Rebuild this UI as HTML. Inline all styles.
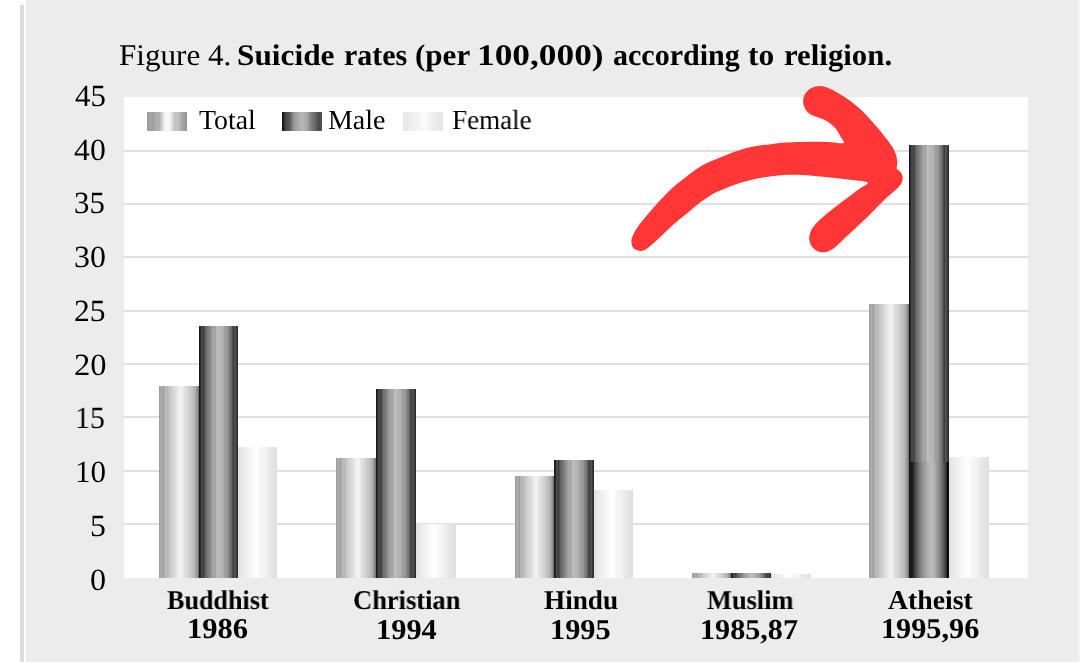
<!DOCTYPE html>
<html><head><meta charset="utf-8"><style>
html,body{margin:0;padding:0;}
body{width:1080px;height:662px;position:relative;overflow:hidden;background:#ffffff;font-family:"Liberation Serif",serif;color:#000;text-rendering:geometricPrecision;}
.vline{position:absolute;left:20px;top:5px;width:4px;height:657px;background:#dcdcdc;}
.bg{position:absolute;left:26px;top:0;width:1052px;height:662px;background:#ececec;}
.rstrip{position:absolute;left:1078px;top:0;width:2px;height:662px;background:#f3f3f3;}
.plot{position:absolute;left:124.4px;top:96.85px;width:904.10px;height:480.95px;background:#fff;}
.grid{position:absolute;left:124.4px;width:904.10px;height:2px;background:#e0e0e0;}
.bar{position:absolute;}
.t{position:absolute;white-space:nowrap;line-height:normal;transform-origin:0 0;will-change:transform;}
.sw{position:absolute;top:111.7px;width:40px;height:19px;}
</style></head><body>
<div class="vline"></div>
<div class="bg"></div>
<div class="rstrip"></div>
<div class="plot"></div>
<div class="grid" style="top:149.74px"></div><div class="grid" style="top:203.07px"></div><div class="grid" style="top:256.40px"></div><div class="grid" style="top:309.73px"></div><div class="grid" style="top:363.06px"></div><div class="grid" style="top:416.39px"></div><div class="grid" style="top:469.72px"></div><div class="grid" style="top:523.05px"></div>
<div class="bar" style="left:159.20px;top:385.8px;width:39.40px;height:192.0px;background:linear-gradient(90deg,#999999 0%,#afafaf 6%,#9c9c9c 12%,#bdbdbd 15.5%,#b5b5b5 20.5%,#c8c8c8 27%,#d5d5d5 35.5%,#e0e0e0 42.5%,#ebebeb 49%,#f5f5f5 53.5%,#eeeeee 58.5%,#e0e0e0 63.5%,#d8d8d8 71%,#c8c8c8 79.5%,#bebebe 85.5%,#aaaaaa 92%,#888888 97%,#666666 100%)"></div><div class="bar" style="left:198.60px;top:326.1px;width:39.40px;height:251.7px;background:linear-gradient(90deg,#1a1a1a 0%,#1a1a1a 2.5%,#555555 7.5%,#3a3a3a 11.75%,#6a6a6a 17.25%,#787878 23.5%,#8e8e8e 29.5%,#a8a8a8 37%,#a2a2a2 42.5%,#c0c0c0 46%,#b8b8b8 52%,#b2b2b2 61%,#999999 67.5%,#a0a0a0 72%,#888888 75.5%,#737373 81.5%,#3c3c3c 88.5%,#5a5a5a 92.5%,#303030 97.5%,#2a2a2a 100%)"></div><div class="bar" style="left:238.00px;top:446.7px;width:39.40px;height:131.1px;background:linear-gradient(90deg,#e0e0e0 0%,#e3e3e3 3%,#ebebeb 13.5%,#f3f3f3 26.5%,#fafafa 36%,#ffffff 47%,#f6f6f6 58.5%,#f2f2f2 69%,#e8e8e8 80.5%,#e2e2e2 94%,#dedede 100%)"></div><div class="bar" style="left:336.00px;top:457.8px;width:40.10px;height:120.0px;background:linear-gradient(90deg,#999999 0%,#afafaf 6%,#9c9c9c 12%,#bdbdbd 15.5%,#b5b5b5 20.5%,#c8c8c8 27%,#d5d5d5 35.5%,#e0e0e0 42.5%,#ebebeb 49%,#f5f5f5 53.5%,#eeeeee 58.5%,#e0e0e0 63.5%,#d8d8d8 71%,#c8c8c8 79.5%,#bebebe 85.5%,#aaaaaa 92%,#888888 97%,#666666 100%)"></div><div class="bar" style="left:376.10px;top:389.4px;width:40.10px;height:188.4px;background:linear-gradient(90deg,#1a1a1a 0%,#1a1a1a 2.5%,#555555 7.5%,#3a3a3a 11.75%,#6a6a6a 17.25%,#787878 23.5%,#8e8e8e 29.5%,#a8a8a8 37%,#a2a2a2 42.5%,#c0c0c0 46%,#b8b8b8 52%,#b2b2b2 61%,#999999 67.5%,#a0a0a0 72%,#888888 75.5%,#737373 81.5%,#3c3c3c 88.5%,#5a5a5a 92.5%,#303030 97.5%,#2a2a2a 100%)"></div><div class="bar" style="left:416.20px;top:523.8px;width:40.10px;height:54.0px;background:linear-gradient(90deg,#e0e0e0 0%,#e3e3e3 3%,#ebebeb 13.5%,#f3f3f3 26.5%,#fafafa 36%,#ffffff 47%,#f6f6f6 58.5%,#f2f2f2 69%,#e8e8e8 80.5%,#e2e2e2 94%,#dedede 100%)"></div><div class="bar" style="left:514.90px;top:475.9px;width:39.40px;height:101.9px;background:linear-gradient(90deg,#999999 0%,#afafaf 6%,#9c9c9c 12%,#bdbdbd 15.5%,#b5b5b5 20.5%,#c8c8c8 27%,#d5d5d5 35.5%,#e0e0e0 42.5%,#ebebeb 49%,#f5f5f5 53.5%,#eeeeee 58.5%,#e0e0e0 63.5%,#d8d8d8 71%,#c8c8c8 79.5%,#bebebe 85.5%,#aaaaaa 92%,#888888 97%,#666666 100%)"></div><div class="bar" style="left:554.30px;top:460.4px;width:39.40px;height:117.4px;background:linear-gradient(90deg,#1a1a1a 0%,#1a1a1a 2.5%,#555555 7.5%,#3a3a3a 11.75%,#6a6a6a 17.25%,#787878 23.5%,#8e8e8e 29.5%,#a8a8a8 37%,#a2a2a2 42.5%,#c0c0c0 46%,#b8b8b8 52%,#b2b2b2 61%,#999999 67.5%,#a0a0a0 72%,#888888 75.5%,#737373 81.5%,#3c3c3c 88.5%,#5a5a5a 92.5%,#303030 97.5%,#2a2a2a 100%)"></div><div class="bar" style="left:593.70px;top:489.9px;width:39.40px;height:87.9px;background:linear-gradient(90deg,#e0e0e0 0%,#e3e3e3 3%,#ebebeb 13.5%,#f3f3f3 26.5%,#fafafa 36%,#ffffff 47%,#f6f6f6 58.5%,#f2f2f2 69%,#e8e8e8 80.5%,#e2e2e2 94%,#dedede 100%)"></div><div class="bar" style="left:691.50px;top:572.8px;width:39.90px;height:5.0px;background:linear-gradient(90deg,#999999 0%,#afafaf 6%,#9c9c9c 12%,#bdbdbd 15.5%,#b5b5b5 20.5%,#c8c8c8 27%,#d5d5d5 35.5%,#e0e0e0 42.5%,#ebebeb 49%,#f5f5f5 53.5%,#eeeeee 58.5%,#e0e0e0 63.5%,#d8d8d8 71%,#c8c8c8 79.5%,#bebebe 85.5%,#aaaaaa 92%,#888888 97%,#666666 100%)"></div><div class="bar" style="left:731.40px;top:572.8px;width:39.90px;height:5.0px;background:linear-gradient(90deg,#1a1a1a 0%,#1a1a1a 2.5%,#555555 7.5%,#3a3a3a 11.75%,#6a6a6a 17.25%,#787878 23.5%,#8e8e8e 29.5%,#a8a8a8 37%,#a2a2a2 42.5%,#c0c0c0 46%,#b8b8b8 52%,#b2b2b2 61%,#999999 67.5%,#a0a0a0 72%,#888888 75.5%,#737373 81.5%,#3c3c3c 88.5%,#5a5a5a 92.5%,#303030 97.5%,#2a2a2a 100%)"></div><div class="bar" style="left:771.30px;top:574.3px;width:39.90px;height:3.5px;background:linear-gradient(90deg,#e0e0e0 0%,#e3e3e3 3%,#ebebeb 13.5%,#f3f3f3 26.5%,#fafafa 36%,#ffffff 47%,#f6f6f6 58.5%,#f2f2f2 69%,#e8e8e8 80.5%,#e2e2e2 94%,#dedede 100%)"></div><div class="bar" style="left:869.20px;top:304.3px;width:39.90px;height:273.5px;background:linear-gradient(90deg,#999999 0%,#afafaf 6%,#9c9c9c 12%,#bdbdbd 15.5%,#b5b5b5 20.5%,#c8c8c8 27%,#d5d5d5 35.5%,#e0e0e0 42.5%,#ebebeb 49%,#f5f5f5 53.5%,#eeeeee 58.5%,#e0e0e0 63.5%,#d8d8d8 71%,#c8c8c8 79.5%,#bebebe 85.5%,#aaaaaa 92%,#888888 97%,#666666 100%)"></div><div class="bar" style="left:909.10px;top:144.9px;width:39.90px;height:432.9px;background:linear-gradient(90deg,#1a1a1a 0%,#1a1a1a 2.5%,#555555 7.5%,#3a3a3a 11.75%,#6a6a6a 17.25%,#787878 23.5%,#8e8e8e 29.5%,#a8a8a8 37%,#a2a2a2 42.5%,#c0c0c0 46%,#b8b8b8 52%,#b2b2b2 61%,#999999 67.5%,#a0a0a0 72%,#888888 75.5%,#737373 81.5%,#3c3c3c 88.5%,#5a5a5a 92.5%,#303030 97.5%,#2a2a2a 100%)"></div><div class="bar" style="left:949.00px;top:456.9px;width:39.90px;height:120.9px;background:linear-gradient(90deg,#e0e0e0 0%,#e3e3e3 3%,#ebebeb 13.5%,#f3f3f3 26.5%,#fafafa 36%,#ffffff 47%,#f6f6f6 58.5%,#f2f2f2 69%,#e8e8e8 80.5%,#e2e2e2 94%,#dedede 100%)"></div><div class="bar" style="left:909.10px;top:461.9px;width:39.90px;height:115.9px;background:linear-gradient(90deg,#1a1a1a 0%,#1a1a1a 8%,#4a4a4a 16%,#5a5a5a 20%,#7a7a7a 27%,#999999 37%,#aaaaaa 45%,#b8b8b8 51%,#b8b8b8 62%,#a0a0a0 68%,#888888 76%,#6a6a6a 83%,#4a4a4a 89%,#3a3a3a 93%,#0a0a0a 96%,#0a0a0a 100%)"></div>
<div class="sw" style="left:147.3px;background:linear-gradient(90deg,#9a9a9a 0%,#a5a5a5 8%,#9d9d9d 15%,#b0b0b0 22%,#acacac 30%,#d5d5d5 38%,#f6f6f6 45%,#f8f8f8 55%,#e0e0e0 62%,#c0c0c0 70%,#c5c5c5 78%,#acacac 85%,#a0a0a0 92%,#929292 100%)"></div>
<div class="sw" style="left:282.4px;background:linear-gradient(90deg,#111111 0%,#222222 4%,#4a4a4a 10%,#555555 18%,#777777 24%,#999999 31%,#a5a5a5 38%,#b8b8b8 50%,#aaaaaa 62%,#808080 73%,#666666 83%,#4a4a4a 92%,#555555 100%)"></div>
<div class="sw" style="left:402.5px;background:linear-gradient(90deg,#e8e8e8 0%,#e8e8e8 10%,#efefef 25%,#f5f5f5 40%,#fcfcfc 54%,#f3f3f3 67%,#ebebeb 80%,#e6e6e6 100%)"></div>
<div class="t" style="left:119.02px;top:39.08px;font-size:30.0px;transform:scaleX(1.037)">Figure 4.</div><div class="t" style="left:237.23px;top:39.08px;font-size:30.0px;font-weight:bold;transform:scaleX(1.044)">Suicide</div><div class="t" style="left:343.65px;top:39.08px;font-size:30.0px;font-weight:bold;transform:scaleX(0.996)">rates</div><div class="t" style="left:415.01px;top:39.08px;font-size:30.0px;font-weight:bold;transform:scaleX(1.035)">(per</div><div class="t" style="left:477.46px;top:39.08px;font-size:30.0px;font-weight:bold;transform:scaleX(1.1778)">100,000)</div><div class="t" style="left:613.4px;top:39.08px;font-size:30.0px;font-weight:bold;transform:scaleX(0.9972)">according</div><div class="t" style="left:748.38px;top:39.08px;font-size:30.0px;font-weight:bold;transform:scaleX(1.0495)">to</div><div class="t" style="left:783.63px;top:39.08px;font-size:30.0px;font-weight:bold;transform:scaleX(1.0266)">religion.</div><div class="t" style="left:74.5px;top:79.03px;font-size:30.8px;transform:scaleX(0.9914)">45</div><div class="t" style="left:74.48px;top:132.93px;font-size:30.8px;transform:scaleX(1.031)">40</div><div class="t" style="left:74.41px;top:186.45px;font-size:30.8px;transform:scaleX(0.9946)">35</div><div class="t" style="left:74.35px;top:240.27px;font-size:30.8px;transform:scaleX(1.0357)">30</div><div class="t" style="left:73.68px;top:347.72px;font-size:30.8px;transform:scaleX(1.0584)">20</div><div class="t" style="left:75.24px;top:401.4px;font-size:30.8px;transform:scaleX(0.9664)">15</div><div class="t" style="left:73.52px;top:293.73px;font-size:30.8px;transform:scaleX(1.0248)">25</div><div class="t" style="left:75.12px;top:455.33px;font-size:30.8px;transform:scaleX(1.0093)">10</div><div class="t" style="left:89.69px;top:509.2px;font-size:30.8px;transform:scaleX(1.032)">5</div><div class="t" style="left:90.19px;top:563.12px;font-size:30.8px;transform:scaleX(1.0462)">0</div><div class="t" style="left:198.6px;top:103.9px;font-size:27.7px;transform:scaleX(1.0036)">Total</div><div class="t" style="left:328.44px;top:104.1px;font-size:27.7px;transform:scaleX(1.01)">Male</div><div class="t" style="left:451.77px;top:104.1px;font-size:27.7px;transform:scaleX(0.9768)">Female</div><div class="t" style="left:167.32px;top:584.75px;font-size:27.2px;font-weight:bold;transform:scaleX(0.9606)">Buddhist</div><div class="t" style="left:187.21px;top:613.38px;font-size:28.8px;font-weight:bold;transform:scaleX(1.0606)">1986</div><div class="t" style="left:352.58px;top:585.0px;font-size:27.2px;font-weight:bold;transform:scaleX(0.9738)">Christian</div><div class="t" style="left:375.52px;top:613.62px;font-size:28.8px;font-weight:bold;transform:scaleX(1.0557)">1994</div><div class="t" style="left:543.8px;top:585.1px;font-size:27.2px;font-weight:bold;transform:scaleX(1.0007)">Hindu</div><div class="t" style="left:550.43px;top:613.92px;font-size:28.8px;font-weight:bold;transform:scaleX(1.0525)">1995</div><div class="t" style="left:706.72px;top:585.0px;font-size:27.2px;font-weight:bold;transform:scaleX(0.97)">Muslim</div><div class="t" style="left:700.44px;top:613.7px;font-size:28.8px;font-weight:bold;transform:scaleX(1.0468)">1985,87</div><div class="t" style="left:888.04px;top:585.0px;font-size:27.2px;font-weight:bold;transform:scaleX(1.0211)">Atheist</div><div class="t" style="left:880.94px;top:613.35px;font-size:28.8px;font-weight:bold;transform:scaleX(1.0497)">1995,96</div>
<svg width="1080" height="662" style="position:absolute;left:0;top:0" viewBox="0 0 1080 662"><path fill="#fe3636" d="M640.6 251.0C638.8 251.0 636.9 250.5 635.5 249.6C634.1 248.8 632.7 247.3 632.1 245.7C631.4 244.1 631.2 242.0 631.5 239.9C631.9 237.7 632.9 235.1 634.2 232.7C635.4 230.2 637.3 227.6 639.1 225.1C640.9 222.6 643.1 220.0 645.1 217.6C647.1 215.2 649.0 213.0 650.9 210.8C652.7 208.7 654.2 206.9 656.2 204.7C658.1 202.5 660.3 200.0 662.7 197.5C665.0 195.0 667.8 192.2 670.2 189.9C672.7 187.6 675.2 185.5 677.3 183.7C679.5 181.9 681.2 180.6 683.1 179.2C685.0 177.7 686.4 176.4 688.4 174.9C690.5 173.4 692.8 171.6 695.1 170.0C697.5 168.3 700.2 166.7 702.7 165.3C705.2 163.9 707.7 162.6 710.2 161.5C712.7 160.4 715.3 159.4 717.8 158.4C720.3 157.4 722.8 156.5 725.2 155.5C727.7 154.6 730.2 153.5 732.6 152.6C735.1 151.6 737.6 150.7 740.1 149.9C742.6 149.1 745.2 148.5 747.7 147.8C750.2 147.2 752.5 146.8 755.2 146.3C757.9 145.8 760.7 145.4 764.0 145.0C767.2 144.6 770.7 144.1 774.5 143.7C778.2 143.3 781.9 142.9 786.3 142.6C790.8 142.3 796.2 142.1 801.4 142.0C806.6 141.9 812.6 141.8 817.6 141.8C822.5 141.8 826.6 142.0 831.0 142.2C835.3 142.4 842.1 144.0 843.7 143.1C845.3 142.2 841.6 138.6 840.5 136.5C839.4 134.5 838.5 132.5 837.3 130.8C836.2 129.1 835.1 127.9 833.7 126.5C832.3 125.1 830.7 123.7 828.8 122.5C827.0 121.2 824.8 120.0 822.6 119.1C820.4 118.1 817.8 117.6 815.6 116.6C813.4 115.7 811.0 114.8 809.2 113.4C807.4 112.0 805.8 110.2 804.8 108.1C803.7 106.1 803.1 103.5 803.1 101.1C803.2 98.8 803.9 96.1 805.1 94.0C806.4 91.9 808.4 89.8 810.5 88.5C812.6 87.2 815.2 86.4 817.7 86.2C820.1 85.9 822.7 86.3 825.2 87.0C827.7 87.6 830.4 88.9 832.8 90.1C835.2 91.3 837.3 92.6 839.6 94.0C841.9 95.4 843.9 96.6 846.4 98.3C848.8 100.0 851.8 102.1 854.5 104.3C857.2 106.5 860.0 109.1 862.7 111.6C865.3 114.1 867.7 116.7 870.2 119.4C872.7 122.1 875.4 125.0 877.8 127.9C880.2 130.7 882.6 133.8 884.6 136.4C886.6 138.9 888.3 141.1 889.8 143.2C891.4 145.4 892.6 147.2 893.8 149.4C894.9 151.6 895.9 154.1 896.5 156.4C897.1 158.7 897.3 161.2 897.3 163.2C897.4 165.3 896.3 167.4 896.8 168.8C897.3 170.2 899.6 170.5 900.5 171.9C901.5 173.4 902.6 175.5 902.7 177.5C902.8 179.5 902.2 181.8 901.2 183.7C900.1 185.7 898.0 187.5 896.3 189.2C894.5 191.0 892.6 192.5 890.8 194.1C889.0 195.7 887.6 196.8 885.5 198.8C883.5 200.7 881.2 203.0 878.6 205.6C876.0 208.3 872.8 211.7 869.7 214.8C866.6 217.8 863.0 221.1 860.0 224.0C856.9 226.9 853.9 229.5 851.3 231.9C848.8 234.2 846.8 236.2 844.6 238.2C842.4 240.3 840.4 242.5 838.1 244.4C835.9 246.4 833.7 248.4 831.3 249.7C829.0 251.0 826.6 252.0 824.2 252.2C821.8 252.4 819.1 251.9 817.0 250.9C814.9 249.8 812.8 247.9 811.5 245.9C810.2 244.0 809.4 241.4 809.2 239.0C809.1 236.6 809.7 233.9 810.7 231.4C811.8 228.9 813.7 226.4 815.7 224.1C817.7 221.7 820.2 219.5 822.7 217.3C825.1 215.1 827.7 213.0 830.2 211.0C832.7 209.0 835.2 207.1 837.7 205.2C840.2 203.3 842.6 201.4 845.1 199.5C847.6 197.6 850.1 195.7 852.6 193.9C855.1 192.0 857.6 190.2 860.1 188.3C862.6 186.4 868.3 184.0 867.7 182.7C867.1 181.4 860.6 181.2 856.3 180.6C852.1 179.9 847.8 179.5 842.2 178.8C836.6 178.2 829.7 177.4 822.9 176.7C816.2 176.0 808.7 175.2 801.7 174.9C794.7 174.7 787.5 174.7 780.8 175.2C774.1 175.7 767.4 176.6 761.5 177.7C755.5 178.7 750.1 180.1 745.0 181.5C739.9 182.9 735.0 184.6 730.7 186.2C726.4 187.8 722.4 189.5 719.0 191.0C715.5 192.5 713.1 193.7 710.2 195.4C707.3 197.2 704.6 199.2 701.4 201.6C698.2 204.0 694.3 207.2 691.0 209.9C687.8 212.5 684.6 215.1 681.8 217.5C678.9 219.9 676.5 221.9 674.0 224.1C671.4 226.4 669.0 228.7 666.5 231.1C663.9 233.5 661.2 236.2 658.7 238.6C656.2 240.9 653.6 243.3 651.5 245.1C649.3 246.9 647.7 248.3 645.9 249.3C644.0 250.3 642.3 250.9 640.6 251.0Z"/></svg>
</body></html>
